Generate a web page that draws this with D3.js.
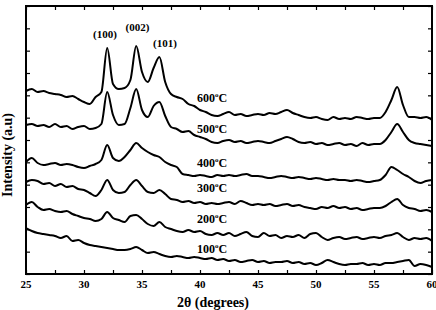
<!DOCTYPE html>
<html>
<head>
<meta charset="utf-8">
<script src="https://cdn.jsdelivr.net/npm/d3@7"></script>
<style>
  html, body { margin: 0; padding: 0; background: #fff; }
  svg { display: block; }
  text { font-family: "Liberation Serif", "Times New Roman", serif; font-weight: bold; fill: #000; }
</style>
</head>
<body>
<svg id="chart" width="436" height="310"></svg>
<script>
// 2θ sampling (degrees), 25 to 60 in 0.5° steps
const twoTheta = d3.range(25, 60.001, 0.5);

// Intensity (a.u.) for each annealing temperature (stacked traces)
const i600 = [183,185,182,183,181,180,179,177,178,175,
              172,170,177,182,226,190,185,186,194,228,
              202,192,206,217,192,180,177,175,170,168,
              164,162,159,158,160,162,159,160,158,159,
              160,159,161,160,162,164,161,159,157,156,
              157,155,154,157,155,156,155,157,156,155,
              156,156,162,174,187,169,157,157,156,157,
              154];
const i500 = [149,150,148,149,147,150,147,148,145,147,
              148,145,146,150,182,159,149,150,166,185,
              164,157,168,172,158,147,145,142,143,139,
              137,135,132,131,133,134,132,133,131,132,
              133,132,131,133,135,137,135,132,131,132,
              130,131,129,130,131,129,130,128,131,129,
              130,130,134,142,150,142,134,131,130,129,
              128];
const i400 = [112,116,111,109,110,111,109,110,109,107,
              106,108,110,114,129,116,113,117,124,131,
              126,122,119,117,112,109,107,100,99,98,
              99,98,97,99,98,99,98,99,100,98,
              98,97,96,97,98,97,96,97,96,95,
              96,95,94,95,94,94,93,94,93,92,
              93,94,99,107,104,100,97,93,91,93,
              94];
const i300 = [92,94,93,90,91,88,90,87,88,85,
              84,81,78,84,94,84,81,82,89,94,
              88,82,81,84,80,75,74,72,73,71,
              72,70,71,70,71,72,70,73,71,69,
              70,69,70,68,69,70,68,69,67,66,
              65,67,66,68,66,67,65,66,64,65,
              66,66,68,72,75,69,66,65,63,64,
              62];
const i200 = [69,72,67,64,65,63,62,63,60,58,
              56,55,53,55,62,56,54,52,58,59,
              55,50,48,52,47,45,43,42,44,42,
              43,40,39,41,39,41,38,40,42,38,
              37,41,38,39,36,38,37,39,36,40,
              41,37,34,36,37,35,36,37,35,36,
              37,36,38,39,41,37,34,36,35,36,
              33];
const i100 = [46,43,41,40,39,38,36,38,33,34,
              31,29,28,27,26,25,24,24,25,27,
              24,21,22,20,18,17,18,17,16,17,
              16,15,16,14,15,13,14,12,13,14,
              12,13,11,12,12,13,11,12,10,11,
              9,11,14,12,10,9,10,10,11,9,
              10,9,11,11,12,13,14,8,10,9,
              7];

const temperatures = ["600", "500", "400", "300", "200", "100"];
const seriesValues = [i600, i500, i400, i300, i200, i100];

const peakLabels = ["(100)", "(002)", "(101)"];
const xTickValues = [25, 30, 35, 40, 45, 50, 55, 60];
const xMinorTickValues = d3.range(25, 60.001, 2.5);
const yDomain = [0, 268];

// ---- layout ----
const svg = d3.select("#chart");
const mLeft = 26, mRight = 432, mTop = 6, mBottom = 274;

const x = d3.scaleLinear().domain([25, 60]).range([mLeft, mRight]);
const y = d3.scaleLinear().domain(yDomain).range([mBottom, mTop]);
const yTickValues = d3.range(0, 12.5).map(i => yDomain[0] + i * (yDomain[1] - yDomain[0]) / 12);

// traces
const line = d3.line()
  .x((d, i) => x(twoTheta[i]))
  .y(d => y(d))
  .curve(d3.curveMonotoneX);

svg.append("g").selectAll("path")
  .data(seriesValues)
  .join("path")
  .attr("d", d => line(d))
  .attr("fill", "none")
  .attr("stroke", "#000")
  .attr("stroke-width", 2)
  .attr("stroke-linejoin", "round");

// axes (ticks inward, no labels on y)
const tickLen = 4;
svg.append("g")
  .attr("transform", `translate(0,${mBottom})`)
  .call(d3.axisBottom(x).tickValues(xMinorTickValues).tickSize(-tickLen).tickFormat(""))
  .call(g => g.select(".domain").remove())
  .call(g => g.selectAll("line").attr("stroke-width", 1.2));
svg.append("g")
  .attr("transform", `translate(0,${mTop})`)
  .call(d3.axisTop(x).tickValues(xMinorTickValues).tickSize(-tickLen).tickFormat(""))
  .call(g => g.select(".domain").remove())
  .call(g => g.selectAll("line").attr("stroke-width", 1.2));
svg.append("g")
  .attr("transform", `translate(${mLeft},0)`)
  .call(d3.axisLeft(y).tickValues(yTickValues).tickSize(-tickLen).tickFormat(""))
  .call(g => g.select(".domain").remove())
  .call(g => g.selectAll("line").attr("stroke-width", 1.2));
svg.append("g")
  .attr("transform", `translate(${mRight},0)`)
  .call(d3.axisRight(y).tickValues(yTickValues).tickSize(-tickLen).tickFormat(""))
  .call(g => g.select(".domain").remove())
  .call(g => g.selectAll("line").attr("stroke-width", 1.2));

// x tick labels
svg.append("g").selectAll("text")
  .data(xTickValues)
  .join("text")
  .attr("x", d => x(d))
  .attr("y", 288)
  .attr("text-anchor", "middle")
  .attr("font-size", 11)
  .text(d => d);

// frame
svg.append("rect")
  .attr("x", mLeft).attr("y", mTop)
  .attr("width", mRight - mLeft).attr("height", mBottom - mTop)
  .attr("fill", "none").attr("stroke", "#000").attr("stroke-width", 2);

// axis titles
svg.append("text")
  .attr("x", 213).attr("y", 307)
  .attr("text-anchor", "middle")
  .attr("font-size", 14)
  .text("2θ (degrees)");
svg.append("text")
  .attr("transform", "translate(12,155) rotate(-90)")
  .attr("text-anchor", "middle")
  .attr("font-size", 14)
  .text("Intensity (a.u)");

// temperature labels
const labelBaselines = [102, 133, 167, 192, 223, 253];
const tl = svg.append("g").selectAll("text")
  .data(temperatures)
  .join("text")
  .attr("x", 197)
  .attr("y", (d, i) => labelBaselines[i])
  .attr("font-size", 12);
tl.append("tspan").text(d => d);
tl.append("tspan").attr("font-size", 7).attr("dy", -5).text("o");
tl.append("tspan").attr("dy", 5).text("C");

// peak labels
const peakPos = [[105, 38], [137.5, 31], [165, 47]];
svg.append("g").selectAll("text")
  .data(peakLabels)
  .join("text")
  .attr("x", (d, i) => peakPos[i][0])
  .attr("y", (d, i) => peakPos[i][1])
  .attr("text-anchor", "middle")
  .attr("font-size", 11)
  .text(d => d);
</script>
</body>
</html>
